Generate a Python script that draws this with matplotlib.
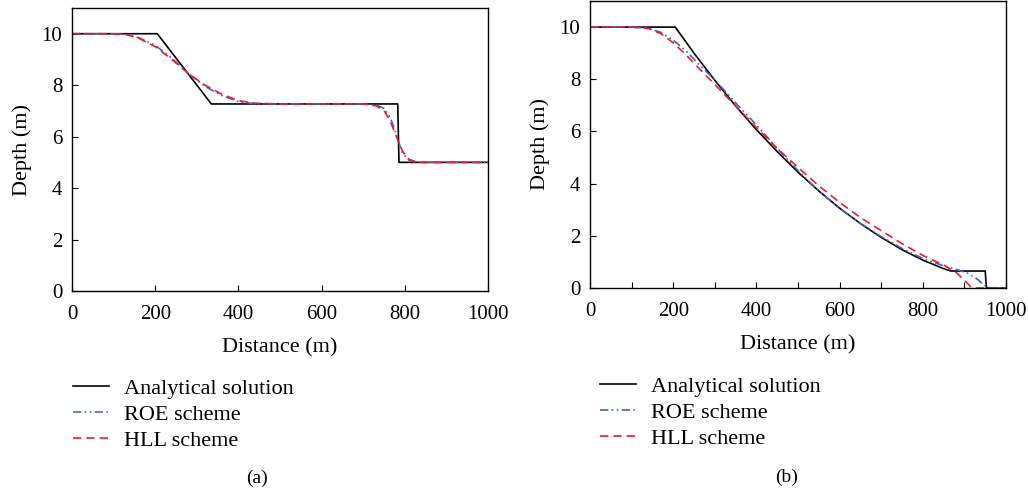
import matplotlib.pyplot as plt
from matplotlib.ticker import MultipleLocator

plt.rcParams['font.family'] = ['Liberation Serif', 'DejaVu Serif']

# panel (a): wet bed
xa_exact = [0, 205, 335, 783, 786, 1000]
ha_exact = [10, 10, 7.27, 7.27, 5.0, 5.0]
xa_roe = [0, 100, 130, 160, 200, 240, 280, 320, 360, 400, 440, 500, 700, 730, 750,
          765, 775, 785, 795, 810, 830, 1000]
ha_roe = [10, 10, 9.97, 9.85, 9.55, 9.05, 8.45, 7.95, 7.6, 7.36, 7.28, 7.27, 7.27, 7.23,
          7.1, 6.75, 6.3, 5.8, 5.35, 5.08, 5.0, 5.0]
xa_hll = [0, 100, 130, 160, 200, 240, 280, 320, 360, 400, 440, 500, 700, 730, 750,
          765, 775, 785, 795, 810, 830, 1000]
ha_hll = [10, 10, 9.97, 9.83, 9.5, 9.0, 8.45, 8.0, 7.65, 7.4, 7.3, 7.27, 7.27, 7.2,
          7.02, 6.6, 6.2, 5.8, 5.42, 5.12, 5.0, 5.0]

# panel (b): dry bed
xb_exact = [0, 205, 250, 300, 350, 400, 450, 500, 550, 600, 650, 700, 750, 800, 850,
            868, 950, 953, 1000]
hb_exact = [10, 10, 9.0, 7.96, 6.98, 6.07, 5.23, 4.44, 3.72, 3.06, 2.47, 1.94, 1.47,
            1.07, 0.74, 0.65, 0.65, 0.0, 0.0]
xb_roe = [0, 100, 140, 170, 200, 230, 260, 300, 350, 400, 450, 500, 550, 600, 650,
          700, 750, 800, 850, 880, 910, 930, 945, 955, 1000]
hb_roe = [10, 10, 9.95, 9.8, 9.5, 9.1, 8.6, 7.98, 7.1, 6.25, 5.35, 4.5, 3.72, 3.05,
          2.48, 1.97, 1.52, 1.13, 0.85, 0.72, 0.55, 0.35, 0.15, 0.02, 0.0]
xb_hll = [0, 100, 140, 170, 200, 230, 260, 300, 350, 400, 450, 500, 550, 600, 650,
          700, 750, 800, 850, 880, 900, 915, 930, 1000]
hb_hll = [10, 10, 9.95, 9.75, 9.4, 8.95, 8.45, 7.8, 6.98, 6.15, 5.35, 4.62, 3.92,
          3.28, 2.7, 2.2, 1.7, 1.25, 0.88, 0.6, 0.3, 0.05, 0.0, 0.0]

fig = plt.figure(figsize=(10.28, 4.93), dpi=100)
ax1 = fig.add_axes([72/1028, 1-291/493, 416/1028, 283/493])
ax2 = fig.add_axes([590/1028, 1-288/493, 416/1028, 287/493])

panels = [
    (ax1, xa_exact, ha_exact, xa_roe, ha_roe, xa_hll, ha_hll),
    (ax2, xb_exact, hb_exact, xb_roe, hb_roe, xb_hll, hb_hll),
]

for ax, xe, he, xr, hr, xh, hh in panels:
    l1, = ax.plot(xe, he, color='black', lw=1.2, label='Analytical solution')
    l2, = ax.plot(xr, hr, color='#4466bb', lw=1.2, dashes=(5, 2, 1, 2, 1, 2),
                  label='ROE scheme')
    l3, = ax.plot(xh, hh, color='#ee1c24', lw=1.2, dashes=(5, 3), label='HLL scheme')
    ax.set_xlim(0, 1000)
    ax.set_ylim(0, 11)
    ax.set_xticks([0, 200, 400, 600, 800, 1000])
    ax.set_yticks([0, 2, 4, 6, 8, 10])
    ax.tick_params(direction='in', length=4, labelsize=15, width=0.8)
    ax.tick_params(axis='x', pad=10)
    ax.tick_params(axis='y', pad=7)
    ax.set_xlabel('Distance (m)', fontsize=16, labelpad=10)
    ax.set_ylabel('Depth (m)', fontsize=16, labelpad=7)
    for s in ax.spines.values():
        s.set_linewidth(1.0)

ax2.xaxis.set_minor_locator(MultipleLocator(100))
ax2.tick_params(which='minor', direction='in', length=4, width=0.8)

handles = [l1, l2, l3]
labels = [l.get_label() for l in handles]
for x0, y0 in [(73, 378), (600, 376)]:
    fig.legend(handles, labels, loc='upper left', bbox_to_anchor=(x0/1028, 1-y0/493),
               frameon=False, fontsize=16, handlelength=1.6, handletextpad=0.7,
               labelspacing=0.25, borderpad=0, borderaxespad=0)

fig.text(257/1028, 1-478/493, '(a)', ha='center', va='center', fontsize=14)
fig.text(787/1028, 1-477/493, '(b)', ha='center', va='center', fontsize=14)

fig.savefig('out.png', dpi=100)
